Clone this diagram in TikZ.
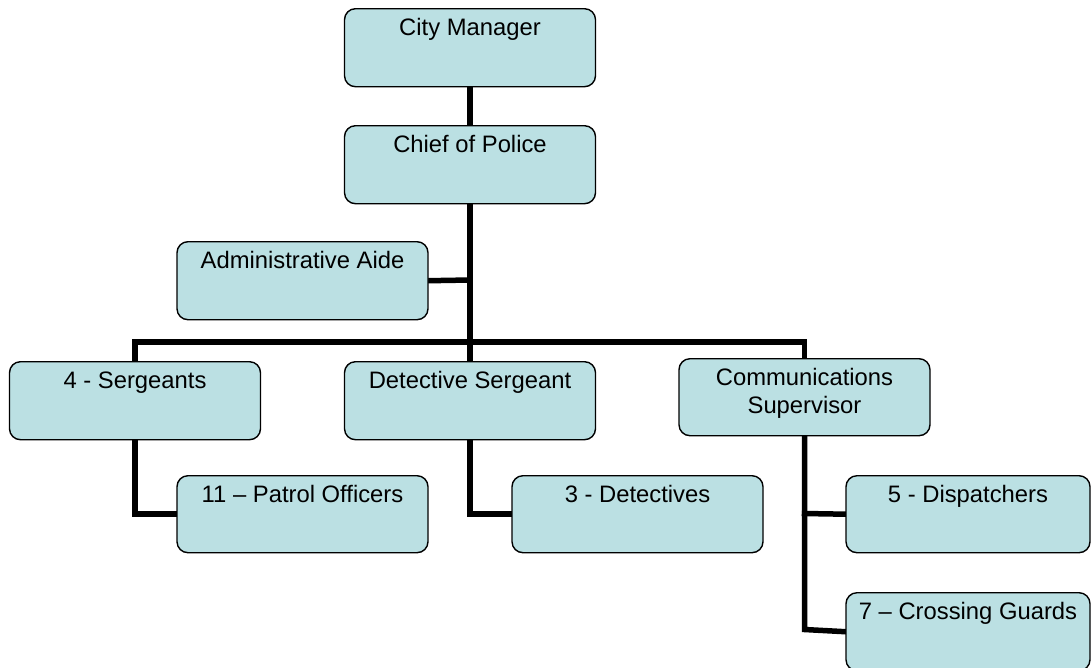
\documentclass[tikz,border=0pt]{standalone}
\usepackage{fontspec}
\setmainfont{Liberation Sans}
\pgfdeclarelayer{background}
\pgfsetlayers{background,main}
\begin{document}
\begin{tikzpicture}[x=1pt,y=-1pt,
  box/.style={draw=black, line width=1.4pt, fill={rgb,255:red,187;green,224;blue,227},
    rounded corners=11pt, anchor=north, inner xsep=0pt, inner ysep=0pt,
    minimum width=251pt, text height=27pt, text depth=51pt, align=center,
    font=\fontsize{23.8}{28}\selectfont},
  conn/.style={line width=5.5pt, line join=miter, line cap=rect}]
\useasboundingbox (0,0) rectangle (1091,667);
\coordinate (bus) at (470,342);
\coordinate (aidej) at (470,280);
\coordinate (dpj) at (804.5,513.5);
\coordinate (cgj) at (804.5,629.5);
% boxes
\node[box] (CM) at (470,8) {City Manager};
\node[box] (CP) at (470,125) {Chief of Police};
\node[box] (AA) at (302.5,241) {Administrative Aide};
\node[box] (SG) at (135,361) {4 - Sergeants};
\node[box] (DS) at (470,361) {Detective Sergeant};
\node[box, text height=55pt, text depth=22pt] (CS) at (804.5,358) {Communications\\Supervisor};
\node[box, text depth=50pt] (PO) at (302.5,475) {11 – Patrol Officers};
\node[box, text depth=50pt] (DT) at (637.5,475) {3 - Detectives};
\node[box, text depth=50pt, minimum width=244pt] (DP) at (968,475) {5 - Dispatchers};
\node[box, minimum width=244pt] (CG) at (968,592) {7 – Crossing Guards};
% connector lines
\begin{pgfonlayer}{background}
\draw[conn] (CM.south) -- (CP.north);
\draw[conn] (CP.south) -- (DS.north);
\draw[conn] (AA.east) -- (aidej);
\draw[conn] (SG.north) |- (bus) -| (CS.north);
\draw[conn] (SG.south) |- (PO.west);
\draw[conn] (DS.south) |- (DT.west);
\draw[conn] (CS.south) -- (cgj) -- (CG.west);
\draw[conn] (dpj) -- (DP.west);
\end{pgfonlayer}
\end{tikzpicture}
\end{document}
